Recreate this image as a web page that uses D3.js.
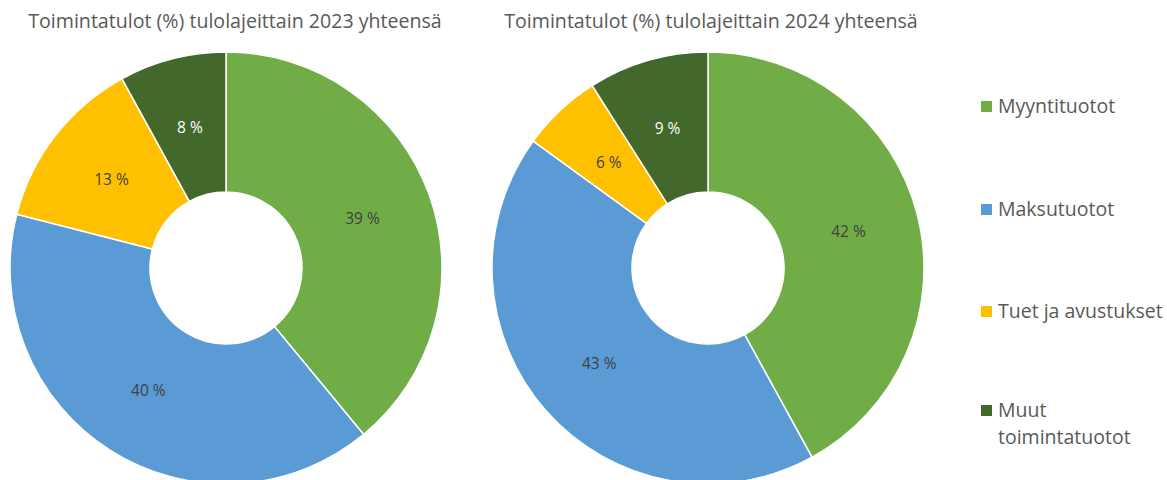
<!DOCTYPE html>
<html lang="fi">
<head>
<meta charset="UTF-8">
<title>Toimintatulot</title>
<script src="https://cdn.jsdelivr.net/npm/d3@7"></script>
<style>
  body { margin: 0; background: #fff; }
  text { font-family: "Open Sans", "Liberation Sans", sans-serif; }
</style>
</head>
<body>
<script>
    const categories = ['Myyntituotot', 'Maksutuotot', 'Tuet ja avustukset', 'Muut toimintatuotot']
    const values2023 = [39, 40, 13, 8]
    const values2024 = [42, 43, 6, 9]
    const titles = ['Toimintatulot (%) tulolajeittain 2023 yhteensä', 'Toimintatulot (%) tulolajeittain 2024 yhteensä']
    const colors = ['#70ad47', '#5b9bd5', '#ffc000', '#43682b']
    const labelColors = ['#404040', '#404040', '#404040', '#ffffff']

    const [width, height] = [1167, 480]
    const [outerR, innerR] = [216, 76]
    const svg = d3.select('body').append('svg').attr('width', width).attr('height', height)

    const color = d3.scaleOrdinal().domain(categories).range(colors)
    const pie = d3.pie().sort(null).value(d => d.value)
    const arc = d3.arc().innerRadius(innerR).outerRadius(outerR)
    const labelArc = d3.arc().innerRadius(145).outerRadius(145)

    const renderDonut = (values, title, cx, tx) => {
        const data = categories.map((c, i) => ({ name: c, value: values[i], i }))
        svg.append('text')
            .attr('x', tx).attr('y', 28)
            .attr('text-anchor', 'middle')
            .attr('font-size', 19.6)
            .attr('fill', '#595959')
            .text(title)
        const g = svg.append('g').attr('transform', `translate(${cx}, 268)`)
        const arcs = pie(data)
        g.selectAll('path').data(arcs).join('path')
            .attr('d', arc)
            .attr('fill', d => color(d.data.name))
            .attr('stroke', '#fff')
            .attr('stroke-width', 1.5)
        g.selectAll('text').data(arcs).join('text')
            .attr('transform', d => `translate(${labelArc.centroid(d)})`)
            .attr('text-anchor', 'middle')
            .attr('dy', '0.35em')
            .attr('font-size', 15.5)
            .attr('fill', d => labelColors[d.data.i])
            .text(d => `${d.data.value} %`)
    }

    renderDonut(values2023, titles[0], 226, 235)
    renderDonut(values2024, titles[1], 708, 711)

    // legend
    const legendY = [106, 209, 311, 410]
    const legend = svg.append('g')
    categories.forEach((c, i) => {
        const row = legend.append('g').attr('transform', `translate(981, ${legendY[i]})`)
        row.append('rect').attr('x', 0).attr('y', -5).attr('width', 11).attr('height', 11).attr('fill', color(c))
        const words = i === 3 ? ['Muut', 'toimintatuotot'] : [c]
        words.forEach((w, j) => {
            row.append('text')
                .attr('x', 17).attr('y', j * 27)
                .attr('dy', '0.35em')
                .attr('font-size', 19.5)
                .attr('fill', '#595959')
                .text(w)
        })
    })
</script>
</body>
</html>
